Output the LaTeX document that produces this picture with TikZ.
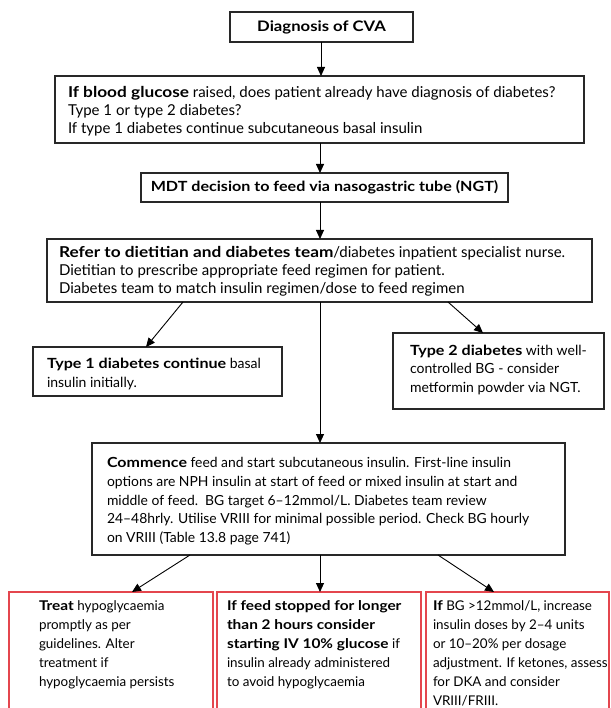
\documentclass[tikz,border=0pt]{standalone}
\usepackage{fontspec}
\setmainfont{Lato}[BoldFeatures={FakeStretch=1.15}]
\usetikzlibrary{arrows.meta,calc}
\definecolor{boxred}{RGB}{228,70,78}
\definecolor{boxline}{RGB}{40,40,40}
\begin{document}
\begin{tikzpicture}[x=1pt,y=-1pt,
 box/.style={draw=boxline, line width=1.2pt, inner sep=0, outer sep=0, anchor=north west},
 redbox/.style={draw=boxred, line width=1.3pt, inner sep=0, outer sep=0, anchor=north west},
 txtA/.style={font=\fontsize{15}{18}\selectfont, align=left, inner sep=0, outer sep=0, anchor=north west},
 txtc/.style={font=\fontsize{14.5}{18}\selectfont\bfseries, inner sep=0, outer sep=0, anchor=center},
 txtT/.style={font=\fontsize{14}{19}\selectfont, align=left, inner sep=0, outer sep=0, anchor=north west},
 txtB/.style={font=\fontsize{13.9}{18.75}\selectfont, align=left, inner sep=0, outer sep=0, anchor=north west},
 txtR/.style={font=\fontsize{13.4}{19}\selectfont, align=left, inner sep=0, outer sep=0, anchor=north west},
 arr/.style={-{Triangle[length=9pt,width=8pt]}, line width=0.9pt, draw=black}]
\useasboundingbox (0,0) rectangle (610,708);
\clip (0,0) rectangle (610,708);
\fill[white] (0,0) rectangle (610,708);

% boxes
\node[box, minimum width=183, minimum height=30] (b1) at (230,12) {};
\node[box, minimum width=529, minimum height=67] (b2) at (55,76) {};
\node[box, minimum width=367, minimum height=29] (b3) at (141,173) {};
\node[box, minimum width=545, minimum height=63] (b4) at (47,239) {};
\node[box, minimum width=249, minimum height=49] (t1) at (33,347) {};
\node[box, minimum width=211, minimum height=76] (t2) at (393,333) {};
\node[box, minimum width=473, minimum height=112] (b5) at (92,443) {};
\node[redbox, minimum width=204, minimum height=130] (r1) at (9,592) {};
\node[redbox, minimum width=204, minimum height=130] (r2) at (217,592) {};
\node[redbox, minimum width=183, minimum height=130] (r3) at (426,592) {};

% texts
\node[txtc] (b1t) at (b1.center) {Diagnosis of CVA};
\node[txtA] (b2t) at (68,84.9) {\strut\textbf{If blood glucose} raised, does patient already have diagnosis of diabetes?\\
Type 1 or type 2 diabetes?\\
If type 1 diabetes continue subcutaneous basal insulin};
\node[txtc, font=\fontsize{14}{18}\selectfont\bfseries] (b3t) at (b3.center) {MDT decision to feed via nasogastric tube (NGT)};
\node[txtA] (b4t) at (59,244.9) {\strut\textbf{Refer to dietitian and diabetes team}/diabetes inpatient specialist nurse.\\
Dietitian to prescribe appropriate feed regimen for patient.\\
Diabetes team to match insulin regimen/dose to feed regimen};
\node[txtT] (t1t) at (47,354.7) {\strut\textbf{Type 1 diabetes continue} basal\\
insulin initially.};
\node[txtT, font=\fontsize{14}{18.5}\selectfont] (t2t) at (410,342.5) {\strut\textbf{Type 2 diabetes} with well-\\
controlled BG - consider\\
metformin powder via NGT.};
\node[txtB] (b5t) at (107,454.4) {\strut\textbf{Commence} feed and start subcutaneous insulin. First-line insulin\\
options are NPH insulin at start of feed or mixed insulin at start and\\
middle of feed.\ \ BG target 6–12mmol/L. Diabetes team review\\
24–48hrly. Utilise VRIII for minimal possible period. Check BG hourly\\
on VRIII (Table 13.8 page 741)};
\node[txtR] (r1t) at (39,596.7) {\strut\textbf{Treat} hypoglycaemia\\
promptly as per\\
guidelines. Alter\\
treatment if\\
hypoglycaemia persists};
\node[txtR] (r2t) at (227,596.7) {\strut\textbf{If feed stopped for longer}\\
\textbf{than 2 hours consider}\\
\textbf{starting IV 10\% glucose} if\\
insulin already administered\\
to avoid hypoglycaemia};
\node[txtR] (r3t) at (433,596.7) {\strut\textbf{If} BG >12mmol/L, increase\\
insulin doses by 2–4 units\\
or 10–20\% per dosage\\
adjustment. If ketones, assess\\
for DKA and consider\\
VRIII/FRIII.};

% connectors
\draw[arr] (b1.south -| 321,0) -- (b2.north -| 321,0);
\draw[arr] (b2.south -| 320,0) -- (b3.north -| 320,0);
\draw[arr] (b3.south -| 320,0) -- (b4.north -| 320,0);
\draw[arr] ([xshift=136pt]b4.south west) -- ([xshift=113pt]t1.north west);
\draw[arr] ([xshift=401pt]b4.south west) -- ([xshift=90pt]t2.north west);
\draw[arr] (b4.south -| 320,0) -- (b5.north -| 320,0);
\draw[arr] ([xshift=98pt]b5.south west) -- ([xshift=123pt]r1.north west);
\draw[arr] (b5.south -| 320,0) -- (r2.north -| 320,0);
\draw[arr] ([xshift=346pt]b5.south west) -- ([xshift=68pt]r3.north west);
\end{tikzpicture}
\end{document}
